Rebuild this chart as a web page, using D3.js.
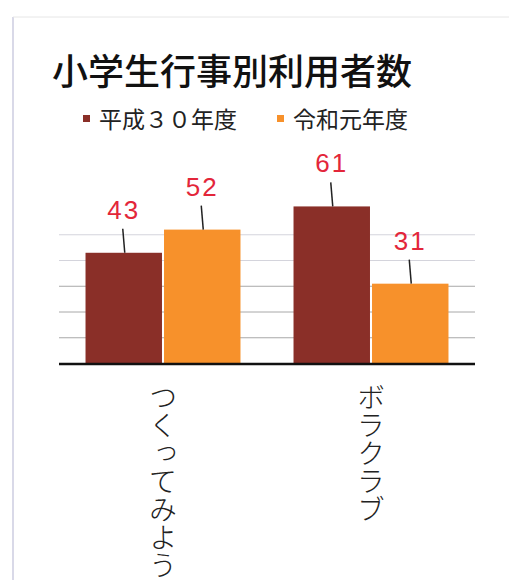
<!DOCTYPE html>
<html>
<head>
<meta charset="utf-8">
<script src="https://cdn.jsdelivr.net/npm/d3@7"></script>
<style>
  body { margin: 0; background: #fff; }
  svg { display: block; }
</style>
</head>
<body>
<script>
(function () {

// data
var categories = ["つくってみよう", "ボラクラブ"];
var seriesNames = ["平成３０年度", "令和元年度"];
var seriesColors = ["#8a2f28", "#f7912b"];
var h30Values = [43, 61];
var r1Values = [52, 31];
var gridTicks = [10, 20, 30, 40, 50];

var width = 509;
var height = 580;

var svg = d3.select("body")
  .append("svg")
    .attr("width", width)
    .attr("height", height);

// card edges
svg.append("line")
  .attr("x1", 13).attr("y1", 17).attr("x2", 13).attr("y2", height)
  .attr("stroke", "#cdcde0").attr("stroke-width", 1.5);
svg.append("line")
  .attr("x1", 13).attr("y1", 17).attr("x2", width).attr("y2", 17)
  .attr("stroke", "#e6e6e6").attr("stroke-width", 1);

// title
svg.append("text")
  .attr("x", 52)
  .attr("y", 85)
  .style("font-family", "'Noto Sans CJK JP', sans-serif")
  .style("font-size", "36px")
  .style("font-weight", 500)
  .style("fill", "#111")
  .text("小学生行事別利用者数");

// legend
var legendX = [83, 277];
var legend = svg.selectAll(".legend")
  .data(seriesNames)
  .enter()
  .append("g")
  .attr("class", "legend")
  .attr("transform", function (d, i) { return "translate(" + legendX[i] + ",0)"; });

legend.append("rect")
  .attr("x", 0).attr("y", 115)
  .attr("width", 7).attr("height", 7)
  .attr("fill", function (d, i) { return seriesColors[i]; });

legend.append("text")
  .attr("x", 16)
  .attr("y", 128)
  .style("font-family", "'Noto Sans CJK JP', sans-serif")
  .style("font-size", "23px")
  .style("fill", "#222")
  .text(function (d) { return d; });

// scales
var x0 = d3.scaleBand()
  .domain(categories)
  .range([59, 475])
  .paddingInner(0.255)
  .paddingOuter(0.1275);

var x1 = d3.scaleBand()
  .domain([0, 1])
  .range([0, x0.bandwidth()])
  .paddingInner(0.026);

var y = d3.scaleLinear()
  .domain([0, 60])
  .range([363.5, 209]);

// gridlines
svg.selectAll(".grid")
  .data(gridTicks)
  .enter()
  .append("line")
  .attr("class", "grid")
  .attr("x1", 59).attr("x2", 475)
  .attr("y1", function (d) { return y(d); })
  .attr("y2", function (d) { return y(d); })
  .attr("stroke", function (d) { return d >= 40 ? "#d4d4dc" : "#a8a8a8"; })
  .attr("stroke-width", 1);

var rows = [];
categories.forEach(function (c, i) {
  rows.push({ cat: c, s: 0, v: h30Values[i] });
  rows.push({ cat: c, s: 1, v: r1Values[i] });
});

// bars
svg.selectAll(".bar")
  .data(rows)
  .enter()
  .append("rect")
  .attr("class", "bar")
  .attr("x", function (d) { return x0(d.cat) + x1(d.s); })
  .attr("y", function (d) { return y(d.v); })
  .attr("width", x1.bandwidth())
  .attr("height", function (d) { return y(0) - y(d.v); })
  .attr("fill", function (d) { return seriesColors[d.s]; });

// leader lines
svg.selectAll(".leader")
  .data(rows)
  .enter()
  .append("line")
  .attr("class", "leader")
  .attr("x1", function (d) { return x0(d.cat) + x1(d.s) + x1.bandwidth() / 2 - 1; })
  .attr("x2", function (d) { return x0(d.cat) + x1(d.s) + x1.bandwidth() / 2 + 1; })
  .attr("y1", function (d) { return y(d.v) - 24; })
  .attr("y2", function (d) { return y(d.v); })
  .attr("stroke", "#222")
  .attr("stroke-width", 1.5);

// value labels
svg.selectAll(".label")
  .data(rows)
  .enter()
  .append("text")
  .attr("class", "label")
  .attr("x", function (d) { return x0(d.cat) + x1(d.s) + x1.bandwidth() / 2; })
  .attr("y", function (d) { return y(d.v) - 34; })
  .attr("text-anchor", "middle")
  .style("font-family", "'Liberation Sans', Arial, sans-serif")
  .style("font-size", "26px")
  .style("letter-spacing", "2px")
  .style("fill", "#e3263a")
  .text(function (d) { return d.v; });

// baseline
svg.append("line")
  .attr("x1", 59).attr("x2", 475)
  .attr("y1", y(0) + 0.5).attr("y2", y(0) + 0.5)
  .attr("stroke", "#111")
  .attr("stroke-width", 2.5);

// vertical category labels
svg.selectAll(".cat")
  .data(categories)
  .enter()
  .append("text")
  .attr("class", "cat")
  .attr("x", function (d) { return x0(d) + x0.bandwidth() / 2; })
  .attr("y", 383)
  .style("writing-mode", "vertical-rl")
  .style("font-family", "'Noto Sans CJK JP', sans-serif")
  .style("font-size", "28px")
  .style("font-weight", 300)
  .style("fill", "#222")
  .text(function (d) { return d; });

}());
</script>
</body>
</html>
